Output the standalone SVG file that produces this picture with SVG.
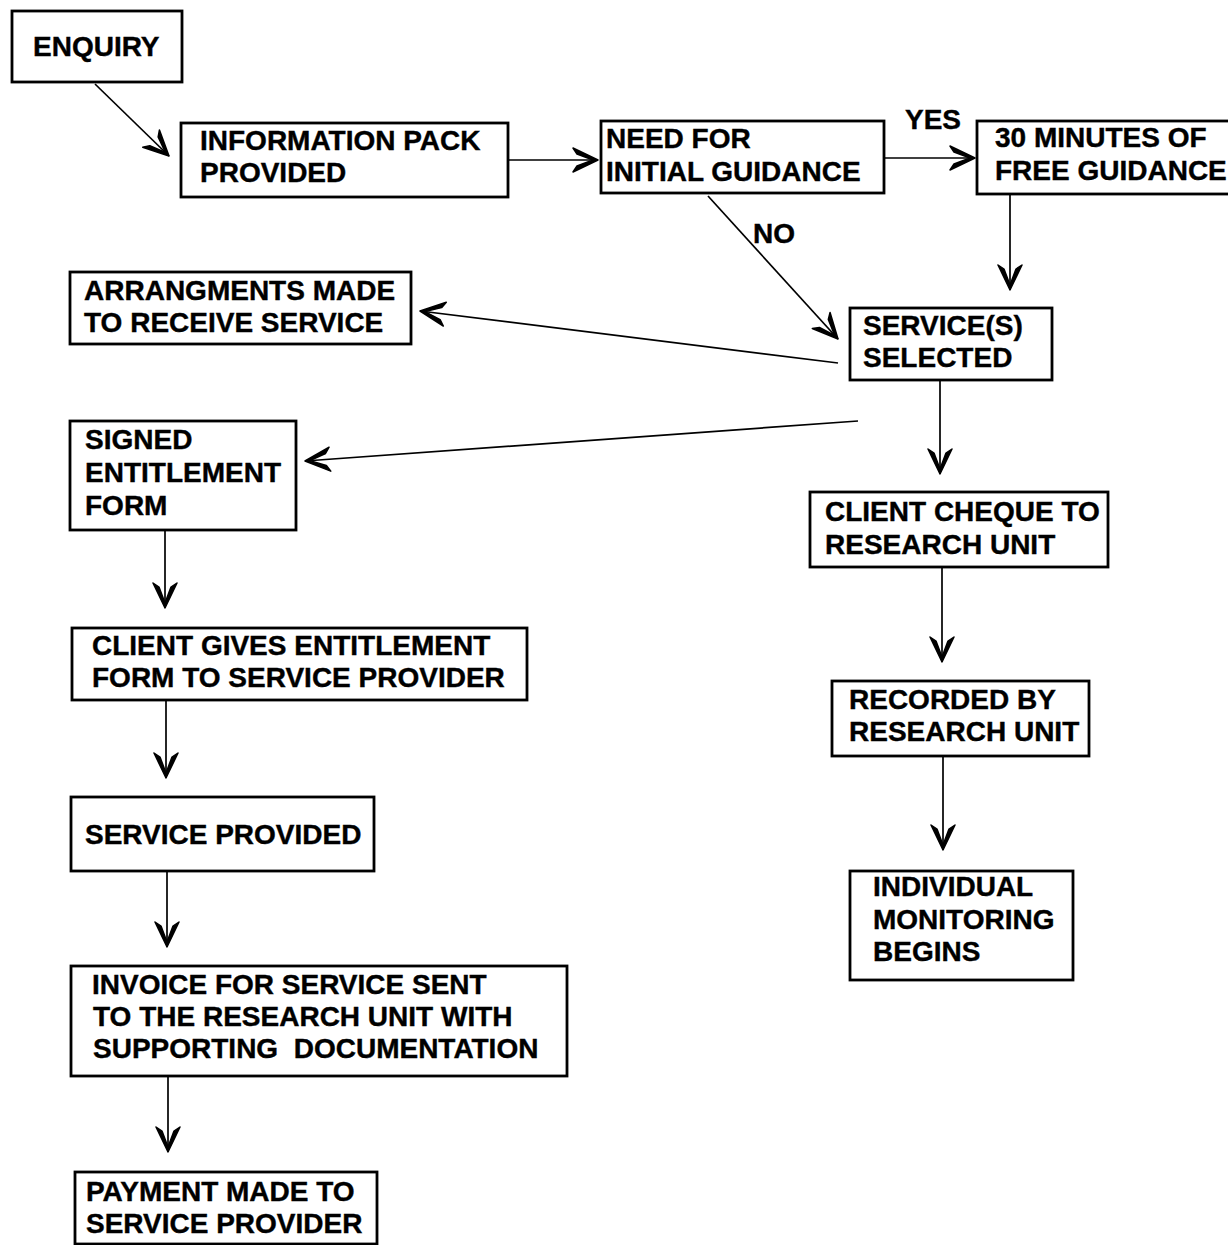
<svg xmlns="http://www.w3.org/2000/svg" width="1228" height="1245" viewBox="0 0 1228 1245">
<style>
.box{fill:#fff;stroke:#000;stroke-width:2.8}
.t{font-family:"Liberation Sans",Arial,sans-serif;font-weight:bold;font-size:28px;fill:#000;stroke:#000;stroke-width:0.4;white-space:pre}
.c{fill:none;stroke:#000;stroke-width:1.7}
</style>
<defs>
<marker id="ah" markerUnits="userSpaceOnUse" viewBox="-30 -16 34 32" refX="0" refY="0" markerWidth="34" markerHeight="32" orient="auto">
<path d="M-25,-12 L0,0 L-25,12 L-21,6 L-5,0 L-21,-6 Z" fill="#000" stroke="#000" stroke-width="1.5" stroke-linejoin="round"/>
</marker>
</defs>
<rect width="1228" height="1245" fill="#fff"/>
<g id="connectors">
<line class="c" x1="95" y1="84" x2="169" y2="156" marker-end="url(#ah)"/>
<line class="c" x1="508" y1="160" x2="598" y2="160" marker-end="url(#ah)"/>
<line class="c" x1="884" y1="158" x2="975" y2="158" marker-end="url(#ah)"/>
<line class="c" x1="708" y1="196" x2="838" y2="339" marker-end="url(#ah)"/>
<line class="c" x1="1010" y1="195" x2="1010" y2="290" marker-end="url(#ah)"/>
<line class="c" x1="838" y1="363" x2="420" y2="311" marker-end="url(#ah)"/>
<line class="c" x1="858" y1="421" x2="305" y2="461" marker-end="url(#ah)"/>
<line class="c" x1="940" y1="380" x2="940" y2="474" marker-end="url(#ah)"/>
<line class="c" x1="942" y1="567" x2="942" y2="662" marker-end="url(#ah)"/>
<line class="c" x1="943" y1="756" x2="943" y2="850" marker-end="url(#ah)"/>
<line class="c" x1="165" y1="530" x2="165" y2="608" marker-end="url(#ah)"/>
<line class="c" x1="166" y1="700" x2="166" y2="778" marker-end="url(#ah)"/>
<line class="c" x1="167" y1="871" x2="167" y2="947" marker-end="url(#ah)"/>
<line class="c" x1="168" y1="1076" x2="168" y2="1152" marker-end="url(#ah)"/>
<text class="t" x="905" y="129">YES</text>
<text class="t" x="753" y="243">NO</text>
</g>
<g id="enquiry"><rect class="box" x="12" y="11" width="170" height="71"/><text class="t" x="33" y="56">ENQUIRY</text></g>
<g id="info"><rect class="box" x="181" y="123" width="327" height="74"/><text class="t" x="200" y="150">INFORMATION PACK</text><text class="t" x="200" y="182">PROVIDED</text></g>
<g id="need"><rect class="box" x="601" y="121" width="283" height="72"/><text class="t" x="606" y="148">NEED FOR</text><text class="t" x="606" y="181">INITIAL GUIDANCE</text></g>
<g id="free"><rect class="box" x="977" y="121" width="260" height="73"/><text class="t" x="995" y="147">30 MINUTES OF</text><text class="t" x="995" y="180">FREE GUIDANCE</text></g>
<g id="arrangements"><rect class="box" x="70" y="272" width="341" height="72"/><text class="t" x="84" y="300">ARRANGMENTS MADE</text><text class="t" x="84" y="332">TO RECEIVE SERVICE</text></g>
<g id="selected"><rect class="box" x="850" y="308" width="202" height="72"/><text class="t" x="863" y="335">SERVICE(S)</text><text class="t" x="863" y="367">SELECTED</text></g>
<g id="signed"><rect class="box" x="70" y="421" width="226" height="109"/><text class="t" x="85" y="449">SIGNED</text><text class="t" x="85" y="482">ENTITLEMENT</text><text class="t" x="85" y="515">FORM</text></g>
<g id="cheque"><rect class="box" x="810" y="492" width="298" height="75"/><text class="t" x="825" y="521">CLIENT CHEQUE TO</text><text class="t" x="825" y="554">RESEARCH UNIT</text></g>
<g id="gives"><rect class="box" x="72" y="628" width="455" height="72"/><text class="t" x="92" y="655">CLIENT GIVES ENTITLEMENT</text><text class="t" x="92" y="687">FORM TO SERVICE PROVIDER</text></g>
<g id="recorded"><rect class="box" x="832" y="681" width="257" height="75"/><text class="t" x="849" y="709">RECORDED BY</text><text class="t" x="849" y="741">RESEARCH UNIT</text></g>
<g id="provided"><rect class="box" x="71" y="797" width="303" height="74"/><text class="t" x="85" y="844">SERVICE PROVIDED</text></g>
<g id="monitoring"><rect class="box" x="850" y="871" width="223" height="109"/><text class="t" x="873" y="896">INDIVIDUAL</text><text class="t" x="873" y="929">MONITORING</text><text class="t" x="873" y="961">BEGINS</text></g>
<g id="invoice"><rect class="box" x="71" y="966" width="496" height="110"/><text class="t" x="92" y="994">INVOICE FOR SERVICE SENT</text><text class="t" x="93" y="1026">TO THE RESEARCH UNIT WITH</text><text class="t" x="93" y="1058">SUPPORTING  DOCUMENTATION</text></g>
<g id="payment"><rect class="box" x="75" y="1172" width="302" height="72"/><text class="t" x="86" y="1201">PAYMENT MADE TO</text><text class="t" x="86" y="1233">SERVICE PROVIDER</text></g>
</svg>
